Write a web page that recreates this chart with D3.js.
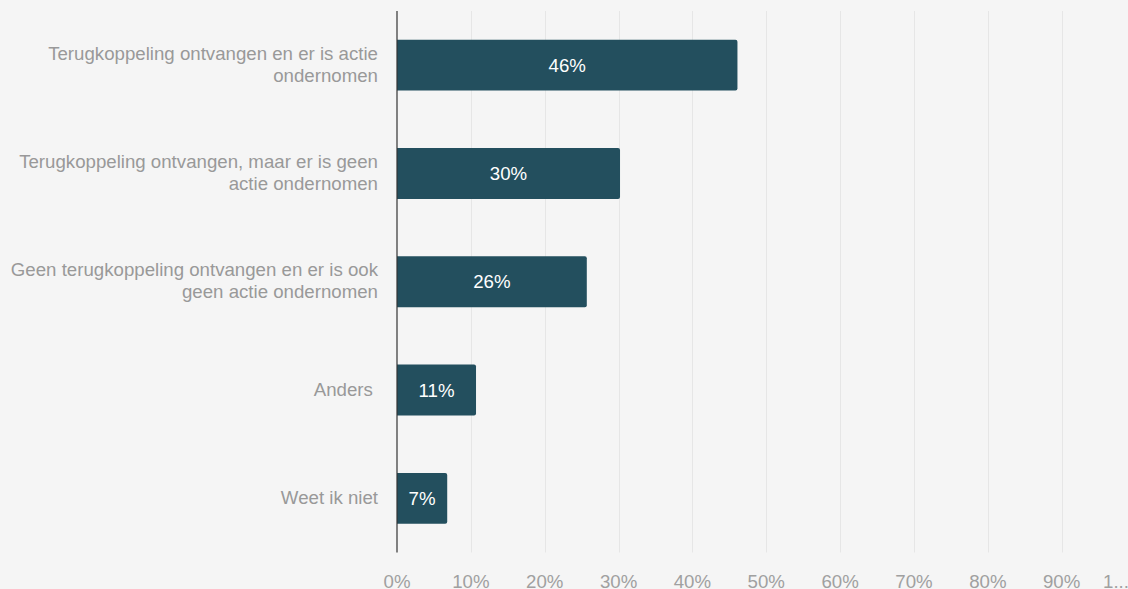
<!DOCTYPE html>
<html>
<head>
<meta charset="utf-8">
<script src="https://cdn.jsdelivr.net/npm/d3@7"></script>
<style>
  html, body { margin: 0; padding: 0; background: #f5f5f5; }
  svg { display: block; font-family: "Liberation Sans", Arial, sans-serif; }
  text { white-space: pre; }
</style>
</head>
<body>
<svg id="chart" width="1128" height="589"></svg>
<script>
const categories = [
  ["Terugkoppeling ontvangen en er is actie", "ondernomen"],
  ["Terugkoppeling ontvangen, maar er is geen", "actie ondernomen"],
  ["Geen terugkoppeling ontvangen en er is ook", "geen actie ondernomen"],
  ["Anders "],
  ["Weet ik niet"]
];
const values = [46.1, 30.2, 25.7, 10.7, 6.8];
const valueLabels = ["46%", "30%", "26%", "11%", "7%"];
const tickValues = [0, 10, 20, 30, 40, 50, 60, 70, 80, 90, 100];
const tickLabels = ["0%", "10%", "20%", "30%", "40%", "50%", "60%", "70%", "80%", "90%", "1..."];

const svg = d3.select("#chart");
const W = 1128, H = 589;
const FS = 18.67;
const m = { left: 397, right: W - 1135.5, top: 11, bottom: H - 552.5 };

svg.append("rect").attr("width", W).attr("height", H).attr("fill", "#f5f5f5");

const x = d3.scaleLinear().domain([0, 100]).range([m.left, W - m.right]);
const idx = d3.range(categories.length);
const y = d3.scaleBand().domain(idx).range([m.top, H - m.bottom]).paddingInner(0.53).paddingOuter(0.265);

// gridlines
svg.append("g").selectAll("line").data(tickValues.filter(d => d > 0)).join("line")
  .attr("x1", d => Math.round(x(d)) + 0.5).attr("x2", d => Math.round(x(d)) + 0.5)
  .attr("y1", m.top).attr("y2", H - m.bottom)
  .attr("stroke", "#e6e6e6").attr("stroke-width", 1);

// bars with slight rounded right corners
const r = 2;
svg.append("g").selectAll("path").data(idx).join("path")
  .attr("d", i => {
    const x0 = x(0), x1 = x(values[i]), y0 = y(i), h = y.bandwidth();
    return `M${x0},${y0}H${x1 - r}Q${x1},${y0} ${x1},${y0 + r}V${y0 + h - r}Q${x1},${y0 + h} ${x1 - r},${y0 + h}H${x0}Z`;
  })
  .attr("fill", "#234f5e");

// value labels
svg.append("g").selectAll("text").data(idx).join("text")
  .attr("x", i => (x(0) + x(values[i])) / 2)
  .attr("y", i => y(i) + y.bandwidth() / 2)
  .attr("dy", "0.35em")
  .attr("text-anchor", "middle")
  .attr("fill", "#ffffff")
  .attr("font-size", FS)
  .text(i => valueLabels[i]);

// y axis line
svg.append("line")
  .attr("x1", x(0)).attr("x2", x(0))
  .attr("y1", m.top).attr("y2", H - m.bottom)
  .attr("stroke", "#333333").attr("stroke-width", 1.2);

// category labels
const lh = 22;
const catG = svg.append("g");
idx.forEach(i => {
  const lines = categories[i];
  const cy = y(i) + y.bandwidth() / 2 - 1;
  const t = catG.append("text")
    .attr("text-anchor", "end")
    .attr("fill", "#999999")
    .attr("font-size", FS);
  lines.forEach((ln, k) => {
    t.append("tspan")
      .attr("x", 378)
      .attr("y", cy + (k - (lines.length - 1) / 2) * lh)
      .attr("dy", "0.35em")
      .text(ln);
  });
});

// x axis tick labels
svg.append("g").selectAll("text").data(tickValues).join("text")
  .attr("x", (d, i) => i === tickValues.length - 1 ? 1103 : x(d))
  .attr("y", 587.5)
  .attr("text-anchor", (d, i) => i === tickValues.length - 1 ? "start" : "middle")
  .attr("fill", "#a0a0a0")
  .attr("font-size", FS)
  .text((d, i) => tickLabels[i]);
</script>
</body>
</html>
